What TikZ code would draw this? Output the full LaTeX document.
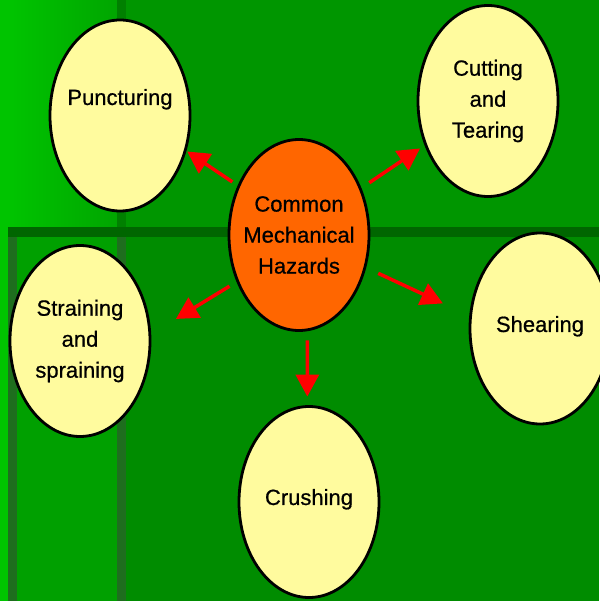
\documentclass[tikz,border=0pt]{standalone}
\usepackage{fontspec}
\setmainfont{Liberation Sans}
\newfontfamily\bubblefont{Liberation Sans}[RawFeature={embolden=0.7}]
\usepackage{xcolor}
\usepackage{tikz}
\usetikzlibrary{shapes.geometric,arrows.meta}

\definecolor{stripgreen}{HTML}{00C400}
\definecolor{lightgreen}{HTML}{00A000}
\definecolor{midgreen}{HTML}{009600}
\definecolor{deepgreen}{HTML}{008C00}
\definecolor{bandgreen}{HTML}{006600}
\definecolor{ridgegreen}{HTML}{1E6E1E}
\definecolor{paleyellow}{HTML}{FFFB9E}
\definecolor{hazardorange}{HTML}{FF6600}

\begin{document}
\begin{tikzpicture}[
    x=1pt, y=-1pt, % pixel units, y going down
    hazard/.style={ellipse,draw,line width=2.8pt,fill=paleyellow,minimum width=140pt,minimum height=191pt,inner sep=-30pt,outer sep=0pt,align=center,font=\bubblefont\fontsize{22}{31}\selectfont},
    centre/.style={hazard,fill=hazardorange},
    link/.style={-{Triangle[width=23pt,length=22pt]},line width=3.5pt,red}
]
    \useasboundingbox (0,0) rectangle (599,601);

    % backdrop panels
    \fill[deepgreen] (0,0) rectangle (599,601);
    \fill[midgreen] (126,0) rectangle (599,227);
    \shade[left color=stripgreen,right color=green!65!black] (8,0) rectangle (117,227);
    \fill[green!50!black] (117,0) rectangle (126,227);
    \fill[lightgreen] (17,237) rectangle (117,601);
    \fill[stripgreen] (0,0) rectangle (8,601);
    \fill[bandgreen] (8,227) rectangle (599,237);
    \fill[ridgegreen] (8,237) rectangle (17,601);
    \fill[ridgegreen] (117,237) rectangle (126,601);

    % hazard bubbles
    \node[centre] (hazards) at (299,235) {Common\\Mechanical\\Hazards};
    \node[hazard,text depth=37pt] (punct) at (120,115.5) {Puncturing};
    \node[hazard] (cut) at (488,101) {Cutting\\and\\Tearing};
    \node[hazard] (strain) at (80,341) {Straining\\and\\spraining};
    \node[hazard,text depth=9pt] (shear) at (540,328.5) {Shearing};
    \node[hazard,text depth=10pt] (crush) at (309,502) {Crushing};

    % arrows out of the centre
    \draw[link,shorten <=7.8pt,shorten >=2.4pt] (hazards.141.9) -- (punct.-28.7);
    \draw[link,shorten <=10.9pt,shorten >=6.9pt] (hazards.37.8) -- (cut.215);
    \draw[link,shorten <=9.6pt,shorten >=30.5pt] (hazards.217.8) -- (strain.5.1);
    \draw[link,shorten <=14.7pt,shorten >=30.5pt] (hazards.-26.5) -- (shear.170.1);
    \draw[link,shorten <=10.6pt,shorten >=10pt] (hazards.-85.2) -- (crush.91.2);
\end{tikzpicture}
\end{document}
